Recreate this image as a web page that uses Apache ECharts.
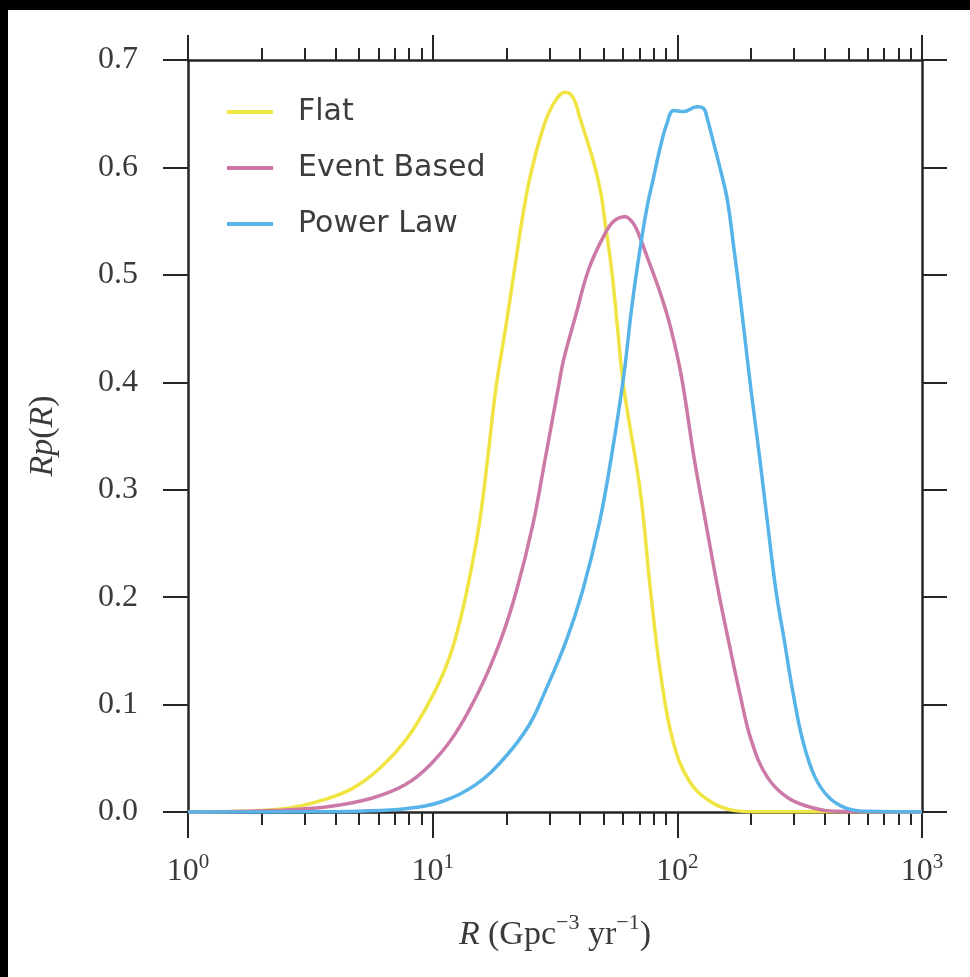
<!DOCTYPE html>
<html><head><meta charset="utf-8">
<script src="https://cdn.jsdelivr.net/npm/echarts@6/dist/echarts.min.js"></script>
<style>
html,body{margin:0;padding:0;background:#000;width:970px;height:977px;overflow:hidden}
#chart{position:absolute;left:8px;top:10px;width:962px;height:967px;background:#fff}
</style></head><body><div id="chart"></div>
<script>
const seriesNames = ['Flat', 'Event Based', 'Power Law'];
const seriesColors = ['#F0E442', '#CC79A7', '#56B4E9'];

const flatR = [1, 1.5, 1.9, 2.6, 3.6, 4.7, 6.1, 7.7, 9.4, 11, 12.3, 13.8, 15.5, 16.8, 18.1, 20.1, 21.7, 23.2, 25, 28.4, 31.5, 34.8, 37.5, 40.1, 45.5, 48.8, 50.5, 54, 57, 60.3, 70.5, 77.7, 85.5, 96, 112, 136, 165, 200, 1000];
const flatP = [0, 0.0005, 0.0012, 0.0037, 0.0115, 0.022, 0.041, 0.066, 0.097, 0.128, 0.159, 0.206, 0.268, 0.330, 0.393, 0.458, 0.508, 0.551, 0.591, 0.638, 0.661, 0.670, 0.665, 0.645, 0.605, 0.575, 0.551, 0.503, 0.450, 0.396, 0.299, 0.206, 0.128, 0.066, 0.0286, 0.010, 0.002, 0.0003, 0];

const eventR = [1, 1.8, 2.6, 3.85, 5.67, 7.74, 9.77, 12.3, 15.5, 18.9, 22, 25.7, 28.9, 32.5, 34.3, 38.3, 43.4, 50, 55, 61.3, 65, 68.3, 75.2, 85.2, 93.6, 104, 117, 131, 147, 162, 179, 201, 234, 284, 359, 440, 1000];
const eventP = [0, 0.0008, 0.0021, 0.0053, 0.013, 0.0255, 0.044, 0.072, 0.113, 0.159, 0.206, 0.268, 0.330, 0.393, 0.421, 0.461, 0.505, 0.536, 0.550, 0.554, 0.550, 0.542, 0.517, 0.483, 0.452, 0.405, 0.330, 0.268, 0.206, 0.159, 0.113, 0.066, 0.032, 0.013, 0.0037, 0.0006, 0];

const powerR = [1, 3, 5, 7.74, 11, 15, 19.6, 24.8, 28.9, 35.1, 41, 47.9, 53.7, 60.3, 65.3, 70.6, 75.5, 80, 85.2, 90.7, 96.6, 106, 120, 128, 132, 141, 150, 160, 170, 181, 190, 200, 217, 234, 253, 274, 296, 326, 366, 419, 489, 594, 1000];
const powerP = [0, 0.0002, 0.0008, 0.003, 0.010, 0.0255, 0.050, 0.081, 0.113, 0.159, 0.206, 0.268, 0.330, 0.405, 0.472, 0.526, 0.565, 0.591, 0.619, 0.641, 0.653, 0.652, 0.6565, 0.655, 0.647, 0.622, 0.598, 0.570, 0.526, 0.477, 0.436, 0.393, 0.330, 0.268, 0.206, 0.159, 0.113, 0.066, 0.032, 0.013, 0.0037, 0.0006, 0];

const xMajorTicks = [1, 10, 100, 1000];
const xMinorTicks = [2, 3, 4, 5, 6, 7, 8, 9, 20, 30, 40, 50, 60, 70, 80, 90, 200, 300, 400, 500, 600, 700, 800, 900];
const yTicks = [0, 0.1, 0.2, 0.3, 0.4, 0.5, 0.6, 0.7];

const serif = '"Liberation Serif", "DejaVu Serif", serif';
const sans = '"DejaVu Sans", "Open Sans", sans-serif';
const axisColor = '#262626';
const labelColor = '#3a3a3a';

function pairs(xs, ys) { return xs.map((x, i) => [x, ys[i]]); }

const chart = echarts.init(document.getElementById('chart'), null, {renderer: 'canvas'});

const baseX = {type: 'log', logBase: 10, min: 1, max: 1000, gridIndex: 0, splitLine: {show: false}, minorTick: {show: false}};
const lineStyleAxis = {color: axisColor, width: 2.5};

const option = {
  animation: false,
  backgroundColor: '#fff',
  grid: {left: 180, top: 50, width: 734, height: 752, containLabel: false, outerBoundsMode: 'none'},
  legend: {
    orient: 'vertical', left: 214, top: 80, itemGap: 22,
    itemWidth: 46, itemHeight: 4, icon: 'rect',
    data: seriesNames,
    textStyle: {fontFamily: sans, fontSize: 30, color: '#3d3d3d', lineHeight: 34, padding: [0, 0, 0, 20]}
  },
  xAxis: [
    Object.assign({}, baseX, {
      position: 'bottom',
      axisLine: {show: true, lineStyle: lineStyleAxis},
      axisTick: {show: true, inside: false, length: 26, lineStyle: {color: axisColor, width: 2}, customValues: xMajorTicks},
      axisLabel: {
        show: true, margin: 40, showMinLabel: true, showMaxLabel: true, customValues: xMajorTicks,
        formatter: v => '{b|10}{s|' + Math.round(Math.log10(v)) + '}',
        rich: {
          b: {fontFamily: serif, fontSize: 32, color: labelColor, lineHeight: 36, verticalAlign: 'bottom'},
          s: {fontFamily: serif, fontSize: 21, color: labelColor, lineHeight: 22, verticalAlign: 'top'}
        }
      },
      name: '{i|R} {n|(Gpc}{s|−3}{n| yr}{s|−1}{n|)}',
      nameLocation: 'middle', nameGap: 100,
      nameTextStyle: {
        fontFamily: serif, fontSize: 33, color: labelColor,
        rich: {
          i: {fontFamily: serif, fontStyle: 'italic', fontSize: 34, color: labelColor, lineHeight: 40, verticalAlign: 'bottom'},
          n: {fontFamily: serif, fontSize: 34, color: labelColor, lineHeight: 40, verticalAlign: 'bottom'},
          s: {fontFamily: serif, fontSize: 22, color: labelColor, lineHeight: 24, verticalAlign: 'top'}
        }
      }
    }),
    Object.assign({}, baseX, {
      position: 'bottom',
      axisLine: {show: false},
      axisTick: {show: true, inside: false, length: 13, lineStyle: {color: axisColor, width: 2}, customValues: xMinorTicks},
      axisLabel: {show: false}
    }),
    Object.assign({}, baseX, {
      position: 'top',
      axisLine: {show: true, lineStyle: lineStyleAxis},
      axisTick: {show: true, inside: false, length: 25, lineStyle: {color: axisColor, width: 2}, customValues: xMajorTicks},
      axisLabel: {show: false}
    }),
    Object.assign({}, baseX, {
      position: 'top',
      axisLine: {show: false},
      axisTick: {show: true, inside: false, length: 12, lineStyle: {color: axisColor, width: 2}, customValues: xMinorTicks},
      axisLabel: {show: false}
    })
  ],
  yAxis: [
    {
      type: 'value', min: 0, max: 0.7, interval: 0.1, position: 'left',
      splitLine: {show: false},
      axisLine: {show: true, lineStyle: lineStyleAxis},
      axisTick: {show: true, inside: false, length: 25, lineStyle: {color: axisColor, width: 2}},
      axisLabel: {
        margin: 50, fontFamily: serif, fontSize: 32, color: labelColor,
        customValues: yTicks,
        formatter: v => v.toFixed(1)
      },
      name: '{i|Rp}{n|(}{i|R}{n|)}',
      nameLocation: 'middle', nameGap: 128, nameRotate: 90,
      nameTextStyle: {
        fontFamily: serif, fontSize: 34, color: labelColor,
        rich: {
          i: {fontFamily: serif, fontStyle: 'italic', fontSize: 34, color: labelColor},
          n: {fontFamily: serif, fontSize: 34, color: labelColor}
        }
      }
    },
    {
      type: 'value', min: 0, max: 0.7, interval: 0.1, position: 'right',
      splitLine: {show: false},
      axisLine: {show: true, lineStyle: lineStyleAxis},
      axisTick: {show: true, inside: false, length: 25, lineStyle: {color: axisColor, width: 2}},
      axisLabel: {show: false}
    }
  ],
  series: [
    {name: seriesNames[0], data: pairs(flatR, flatP), color: seriesColors[0]},
    {name: seriesNames[1], data: pairs(eventR, eventP), color: seriesColors[1]},
    {name: seriesNames[2], data: pairs(powerR, powerP), color: seriesColors[2]}
  ].map(s => ({
    type: 'line', name: s.name, data: s.data, xAxisIndex: 0, yAxisIndex: 0,
    showSymbol: false, symbol: 'none', smooth: 0.4,
    lineStyle: {color: s.color, width: 3.5},
    itemStyle: {color: s.color}
  }))
};
chart.setOption(option);
</script></body></html>
